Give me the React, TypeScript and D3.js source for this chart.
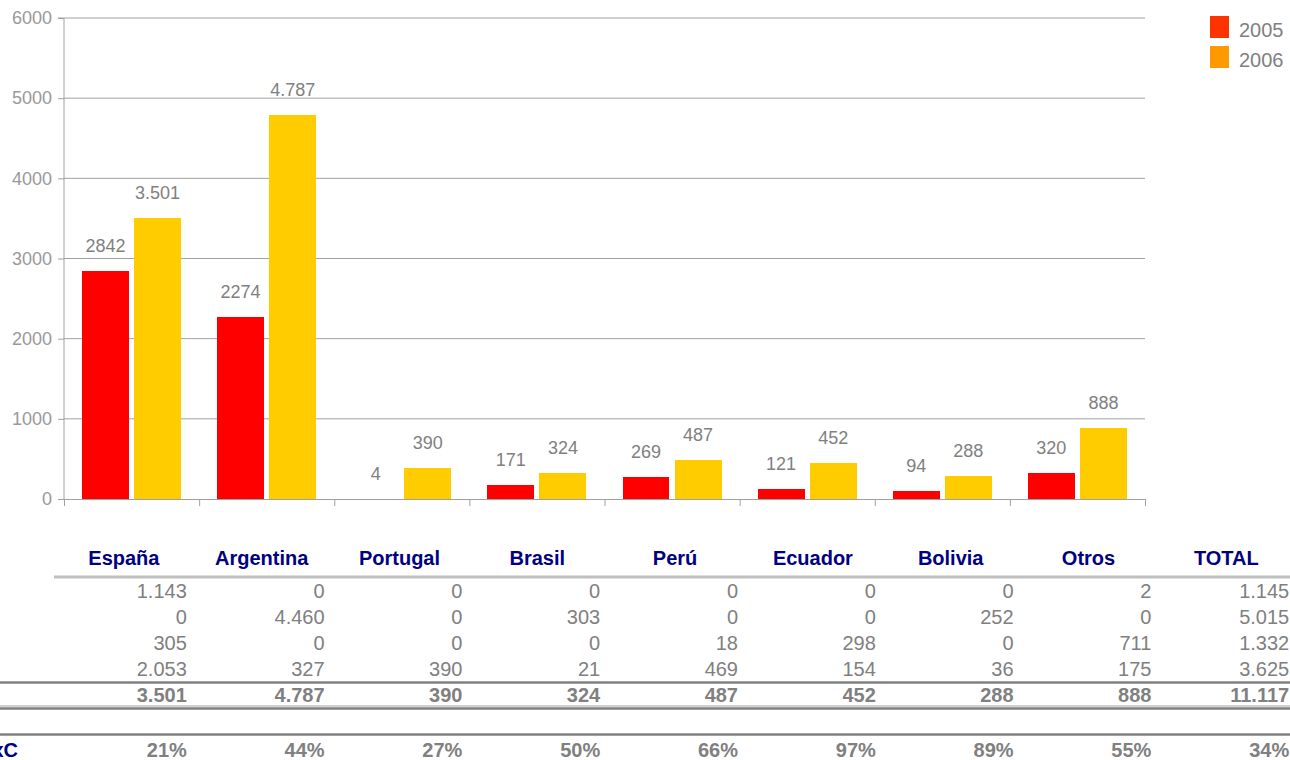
import React, { useEffect, useRef } from 'react';
import * as d3 from 'd3';

// chart data
const paises = ['España', 'Argentina', 'Portugal', 'Brasil', 'Perú', 'Ecuador', 'Bolivia', 'Otros'];
const anios = ['2005', '2006'];
const valores2005 = [2842, 2274, 4, 171, 269, 121, 94, 320];
const valores2006 = [3501, 4787, 390, 324, 487, 452, 288, 888];
const etiquetas2005 = ['2842', '2274', '4', '171', '269', '121', '94', '320'];
const etiquetas2006 = ['3.501', '4.787', '390', '324', '487', '452', '288', '888'];
const yTicks = [0, 1000, 2000, 3000, 4000, 5000, 6000];

// table data
const columnas = ['España', 'Argentina', 'Portugal', 'Brasil', 'Perú', 'Ecuador', 'Bolivia', 'Otros', 'TOTAL'];
const fila1 = ['1.143', '0', '0', '0', '0', '0', '0', '2', '1.145'];
const fila2 = ['0', '4.460', '0', '303', '0', '0', '252', '0', '5.015'];
const fila3 = ['305', '0', '0', '0', '18', '298', '0', '711', '1.332'];
const fila4 = ['2.053', '327', '390', '21', '469', '154', '36', '175', '3.625'];
const filaTotal = ['3.501', '4.787', '390', '324', '487', '452', '288', '888', '11.117'];
const filaPct = ['21%', '44%', '27%', '50%', '66%', '97%', '89%', '55%', '34%'];
const etiquetaPct = 'TxC';

const WIDTH = 1290;
const HEIGHT = 760;
const FONT = '"Liberation Sans", Arial, sans-serif';

export default function App() {
  const ref = useRef<SVGSVGElement>(null);

  useEffect(() => {
    drawChart();
  }, []);

  function drawChart() {
    const svg = d3.select(ref.current);
    svg.selectAll('*').remove();

    const margin = { top: 18, right: 145, bottom: 261, left: 64 };
    const plotRight = WIDTH - margin.right;
    const plotBottom = HEIGHT - margin.bottom;

    const x0 = d3.scaleBand<string>().domain(paises).range([margin.left, plotRight]);
    const x1 = d3.scaleBand<string>().domain(anios).range([18, 117]).paddingInner(0.1);
    const y = d3.scaleLinear().domain([0, 6000]).range([plotBottom, margin.top]);

    // gridlines
    svg.append('g')
      .selectAll('line')
      .data(yTicks.filter(d => d > 0))
      .join('line')
      .attr('x1', margin.left)
      .attr('x2', plotRight)
      .attr('y1', d => y(d))
      .attr('y2', d => y(d))
      .attr('stroke', '#a0a0a0')
      .attr('stroke-width', 1);

    // y axis
    const yAxis = svg.append('g')
      .attr('transform', `translate(${margin.left},0)`)
      .call(d3.axisLeft(y).tickValues(yTicks).tickFormat(d3.format('d')).tickSize(6).tickPadding(6));
    yAxis.selectAll('line, path').attr('stroke', '#a0a0a0');
    yAxis.select('.domain').attr('d', `M-6,${margin.top}H0V${plotBottom}`);
    yAxis.selectAll('text')
      .attr('fill', '#999999')
      .attr('font-size', 18)
      .attr('font-family', FONT);

    // x axis (no labels, only boundary ticks)
    const bounds = paises.map(p => x0(p) as number).concat([plotRight]);
    svg.append('line')
      .attr('x1', margin.left)
      .attr('x2', plotRight)
      .attr('y1', plotBottom + 0.5)
      .attr('y2', plotBottom + 0.5)
      .attr('stroke', '#a0a0a0');
    svg.append('g')
      .selectAll('line')
      .data(bounds)
      .join('line')
      .attr('x1', d => d + 0.5)
      .attr('x2', d => d + 0.5)
      .attr('y1', plotBottom)
      .attr('y2', plotBottom + 7)
      .attr('stroke', '#a0a0a0');

    // bars
    const series = [
      { key: '2005', values: valores2005, labels: etiquetas2005, color: '#ff0000' },
      { key: '2006', values: valores2006, labels: etiquetas2006, color: '#ffcc00' },
    ];

    series.forEach(s => {
      const g = svg.append('g');
      g.selectAll('rect')
        .data(s.values)
        .join('rect')
        .attr('x', (d, i) => (x0(paises[i]) as number) + (x1(s.key) as number))
        .attr('y', d => y(d))
        .attr('width', x1.bandwidth())
        .attr('height', d => plotBottom - y(d))
        .attr('fill', s.color)
        .attr('shape-rendering', 'crispEdges');

      g.selectAll('text')
        .data(s.values)
        .join('text')
        .attr('x', (d, i) => (x0(paises[i]) as number) + (x1(s.key) as number) + x1.bandwidth() / 2)
        .attr('y', d => y(d) - 19)
        .attr('text-anchor', 'middle')
        .attr('font-size', 18)
        .attr('font-family', FONT)
        .attr('fill', '#808080')
        .text((d, i) => s.labels[i]);
    });

    // legend
    const legend = svg.append('g').attr('transform', 'translate(1210,16)');
    const legendColors = ['#ff3300', '#ff9900'];
    anios.forEach((a, i) => {
      legend.append('rect')
        .attr('x', 0)
        .attr('y', i * 30)
        .attr('width', 19)
        .attr('height', 22)
        .attr('fill', legendColors[i]);
      legend.append('text')
        .attr('x', 29)
        .attr('y', i * 30 + 21)
        .attr('font-size', 20)
        .attr('font-family', FONT)
        .attr('fill', '#808080')
        .text(a);
    });

    // table
    const col = d3.scaleBand<string>().domain(columnas).range([55, 55 + 137.8 * columnas.length]);
    const table = svg.append('g').attr('font-family', FONT).attr('font-size', 20);

    table.selectAll('text.header')
      .data(columnas)
      .join('text')
      .attr('class', 'header')
      .attr('x', d => (col(d) as number) + col.bandwidth() / 2)
      .attr('y', 565)
      .attr('text-anchor', 'middle')
      .attr('font-weight', 'bold')
      .attr('fill', '#000080')
      .text(d => d);

    const rows = [
      { values: fila1, y: 598, bold: false },
      { values: fila2, y: 624, bold: false },
      { values: fila3, y: 650, bold: false },
      { values: fila4, y: 676, bold: false },
      { values: filaTotal, y: 702, bold: true },
      { values: filaPct, y: 757, bold: true },
    ];

    rows.forEach(r => {
      table.append('g')
        .selectAll('text')
        .data(r.values)
        .join('text')
        .attr('x', (d, i) => (col(columnas[i]) as number) + col.bandwidth() - 6)
        .attr('y', r.y)
        .attr('text-anchor', 'end')
        .attr('font-weight', r.bold ? 'bold' : 'normal')
        .attr('fill', '#808080')
        .text(d => d);
    });

    // row label, cut at the left edge as in the original
    table.append('text')
      .attr('x', 18)
      .attr('y', 757)
      .attr('text-anchor', 'end')
      .attr('font-weight', 'bold')
      .attr('fill', '#000080')
      .text(etiquetaPct);

    // table rules
    const rules = [
      { x: 54, y: 577, w: 3, color: '#c0c0c0' },
      { x: 0, y: 682.5, w: 2.5, color: '#808080' },
      { x: 0, y: 706, w: 1.5, color: '#c0c0c0' },
      { x: 0, y: 708.5, w: 2.5, color: '#808080' },
      { x: 0, y: 734.5, w: 2.5, color: '#808080' },
    ];
    svg.append('g')
      .selectAll('line')
      .data(rules)
      .join('line')
      .attr('x1', d => d.x)
      .attr('x2', WIDTH)
      .attr('y1', d => d.y)
      .attr('y2', d => d.y)
      .attr('stroke', d => d.color)
      .attr('stroke-width', d => d.w);
  }

  return (
    <svg
      ref={ref}
      width={WIDTH}
      height={HEIGHT}
      style={{ position: 'absolute', left: 0, top: 0, background: '#ffffff' }}
    />
  );
}
